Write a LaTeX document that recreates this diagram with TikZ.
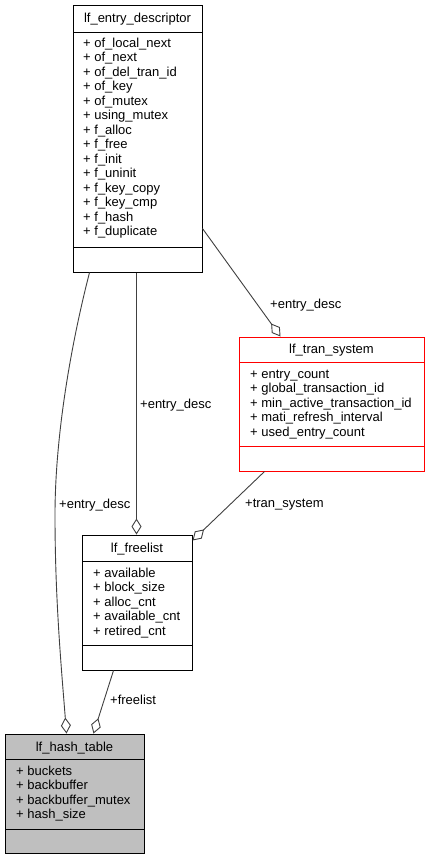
\documentclass[tikz,border=0pt]{standalone}
\usepackage{fontspec}
\setmainfont{Liberation Sans}
\usetikzlibrary{arrows.meta,calc}
\definecolor{edgegray}{HTML}{404040}
\definecolor{tablefill}{HTML}{BFBFBF}

\begin{document}
\begin{tikzpicture}[x=1pt,y=-1pt,
  every node/.style={font=\fontsize{13}{14.5}\selectfont},
  classbox/.style={draw=black, line width=1pt, inner sep=0pt, rectangle},
  sepline/.style={draw=black, line width=1pt},
  member/.style={anchor=base west, inner sep=0pt},
  classname/.style={anchor=base, inner sep=0pt},
  assoc/.style={draw=edgegray, line width=0.9pt,
    -{Diamond[open, length=16pt, width=10pt, line width=0.9pt]}},
  role/.style={anchor=base west, inner sep=0pt},
]
\fill[white] (0,0) rectangle (430,860);
\useasboundingbox (0,0) rectangle (430,860);

% ---- lf_entry_descriptor ----
\node[classbox, minimum width=129pt, minimum height=267pt] (ed) at (137.5,138.5) {};
\node[classname] (ed-t) at (137.5,22) {lf\_entry\_descriptor};
\draw[sepline] (73,32) -- (202,32);
\draw[sepline] (73,247) -- (202,247);
\foreach \m [count=\i from 0] in {of\_local\_next, of\_next, of\_del\_tran\_id, of\_key,
  of\_mutex, using\_mutex, f\_alloc, f\_free, f\_init, f\_uninit, f\_key\_copy,
  f\_key\_cmp, f\_hash, f\_duplicate}
  \node[member] (ed-m\i) at (83,{47+14.5*\i}) {+ \m};

% ---- lf_tran_system ----
\node[classbox, draw=red, minimum width=185pt, minimum height=134pt] (ts) at (331.5,404) {};
\node[classname] (ts-t) at (331.5,353) {lf\_tran\_system};
\draw[sepline, draw=red] (239,362) -- (424,362);
\draw[sepline, draw=red] (239,446) -- (424,446);
\foreach \m [count=\i from 0] in {entry\_count, global\_transaction\_id,
  min\_active\_transaction\_id, mati\_refresh\_interval, used\_entry\_count}
  \node[member] (ts-m\i) at (250,{378+14.5*\i}) {+ \m};

% ---- lf_freelist ----
\node[classbox, minimum width=110pt, minimum height=135pt] (fl) at (137,602.5) {};
\node[classname] (fl-t) at (137,552) {lf\_freelist};
\draw[sepline] (82,561) -- (192,561);
\draw[sepline] (82,645) -- (192,645);
\foreach \m [count=\i from 0] in {available, block\_size, alloc\_cnt,
  available\_cnt, retired\_cnt}
  \node[member] (fl-m\i) at (93,{577+14.5*\i}) {+ \m};

% ---- lf_hash_table ----
\node[classbox, fill=tablefill, minimum width=139pt, minimum height=119pt] (ht) at (74.5,793.5) {};
\node[classname] (ht-t) at (74.5,751) {lf\_hash\_table};
\draw[sepline] (5,759) -- (144,759);
\draw[sepline] (5,829) -- (144,829);
\foreach \m [count=\i from 0] in {buckets, backbuffer, backbuffer\_mutex, hash\_size}
  \node[member] (ht-m\i) at (16,{775+14.5*\i}) {+ \m};

% ---- associations ----
\coordinate (bend) at (55,515);
\draw[assoc] ([xshift=17pt]ed.south west) .. controls +(-20,78) and +(0,-75) .. (bend)
  .. controls +(0,85) and +(-5,-64) .. ([xshift=62pt]ht.north west);
\draw[assoc] ([xshift=64pt]ed.south west) -- ([xshift=55pt]fl.north west);
\draw[assoc] ([yshift=44pt]ed.south east) -- ([xshift=42pt]ts.north west);
\draw[assoc] ([xshift=26pt]ts.south west) -- ([yshift=-6pt]fl.north east);
\draw[assoc] ([xshift=32pt]fl.south west) -- ([xshift=89pt]ht.north west);

% ---- role labels ----
\node[role] (r1) at (270,308) {+entry\_desc};
\node[role] (r2) at (140,408) {+entry\_desc};
\node[role] (r3) at (59,508) {+entry\_desc};
\node[role] (r4) at (245,507) {+tran\_system};
\node[role] (r5) at (110,704) {+freelist};
\end{tikzpicture}
\end{document}
